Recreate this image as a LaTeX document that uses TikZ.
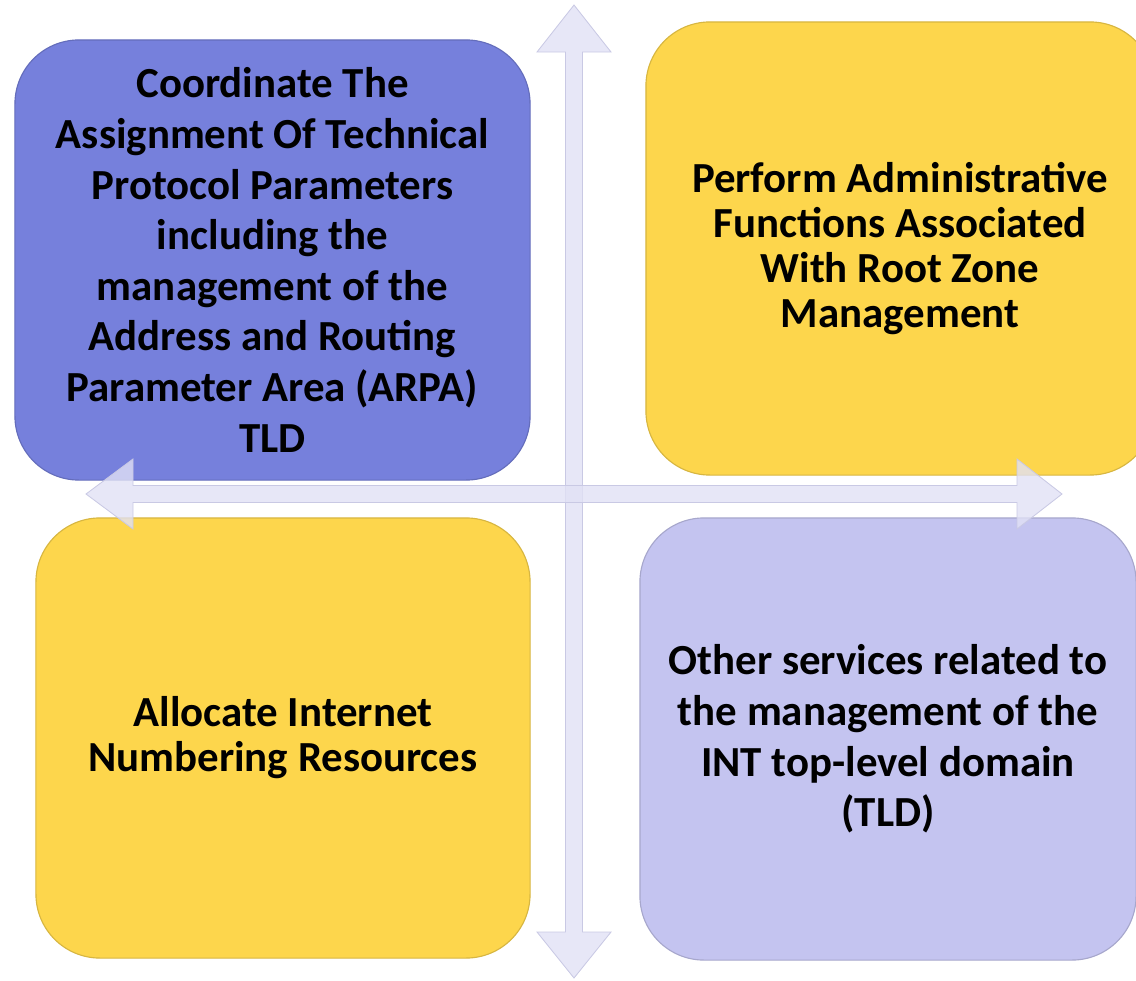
\documentclass[tikz,border=0pt]{standalone}
\usepackage{fontspec}
\setmainfont{Carlito}
\usepackage{xcolor}
\usepackage{tikz}
\usetikzlibrary{positioning,calc}

\definecolor{bluequad}{HTML}{7680DC}
\definecolor{yellowquad}{HTML}{FDD64C}
\definecolor{lilacquad}{HTML}{C4C4F0}
\definecolor{arrowfill}{HTML}{E1E1F5}
\definecolor{arrowline}{HTML}{C9C9E4}

\tikzset{
	quad/.style={rounded corners=1.6cm, inner sep=0, align=center, line width=0.8pt, font=\bfseries\fontsize{30.5}{36}\selectfont},
	axisarrow/.style={fill=arrowfill, draw=arrowline, line width=0.6pt, fill opacity=0.8}
}

\begin{document}
\begin{tikzpicture}[x=0.025cm, y=-0.025cm]
	\useasboundingbox (0,0) rectangle (1136,980);
	% bốn ô
	\node[quad, fill=bluequad, draw=bluequad!85!black, minimum width=12.875cm, minimum height=11cm] (coord) at (272.5,260) {Coordinate The\\Assignment Of Technical\\Protocol Parameters\\including the\\management of the\\Address and Routing\\Parameter Area (ARPA)\\TLD};
	\node[quad, fill=yellowquad, draw=yellowquad!85!black, minimum width=12.7cm, minimum height=11.325cm, font=\bfseries\fontsize{30.5}{32}\selectfont] (admin) at (900,248.5) {Perform Administrative\\Functions Associated\\With Root Zone\\Management};
	\node[quad, fill=yellowquad, draw=yellowquad!85!black, minimum width=12.35cm, minimum height=11cm, font=\bfseries\fontsize{30.5}{32}\selectfont] (alloc) at (283,738) {Allocate Internet\\Numbering Resources};
	\node[quad, fill=lilacquad, draw=lilacquad!85!black, minimum width=12.4cm, minimum height=11.05cm] (other) at (888,739) {Other services related to\\the management of the\\INT top-level domain\\(TLD)};
	% trục dọc
	\draw[axisarrow] (574,5) -- (611,52) -- (582.5,52) -- (582.5,932) -- (611,932) -- (574,978)
		-- (537,932) -- (565.5,932) -- (565.5,52) -- (537,52) -- cycle;
	% trục ngang, đè lên các ô
	\draw[axisarrow] (86,494) -- (133,459) -- (133,485.5) -- (1017,485.5) -- (1017,459) -- (1062,494)
		-- (1017,529) -- (1017,502.5) -- (133,502.5) -- (133,529) -- cycle;
\end{tikzpicture}
\end{document}
